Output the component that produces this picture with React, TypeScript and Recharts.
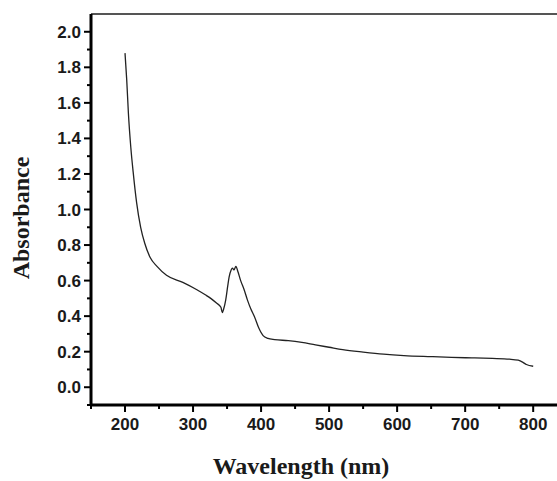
import { LineChart, Line, XAxis, YAxis, ReferenceLine } from "recharts";

const wavelength = [
  200, 202.5, 205, 208.5, 212, 217, 223, 229, 237, 247, 261, 285, 305, 318,
  326, 334, 341, 343, 345, 348, 351, 353, 356, 358, 360, 363, 366, 370, 375,
  380, 385, 390, 397, 403, 410, 420, 440, 460, 480, 500, 520, 550, 580, 610,
  650, 680, 710, 740, 765, 778, 785, 790, 800,
];
const absorbance = [
  1.88, 1.73, 1.54, 1.35, 1.21, 1.04, 0.9, 0.81, 0.73, 0.68, 0.63, 0.59, 0.55,
  0.52, 0.5, 0.475, 0.45, 0.42, 0.44, 0.49, 0.57, 0.62, 0.66, 0.67, 0.66,
  0.68, 0.65, 0.6, 0.55, 0.49, 0.44, 0.4, 0.33, 0.29, 0.275, 0.268, 0.262,
  0.252, 0.238, 0.225, 0.212, 0.198, 0.186, 0.178, 0.172, 0.168, 0.165, 0.162,
  0.158, 0.152, 0.14, 0.128, 0.118,
];

const xTicks = [
  150, 200, 250, 300, 350, 400, 450, 500, 550, 600, 650, 700, 750, 800,
];
const yTicks = [
  -0.1, 0, 0.1, 0.2, 0.3, 0.4, 0.5, 0.6, 0.7, 0.8, 0.9, 1.0, 1.1, 1.2, 1.3,
  1.4, 1.5, 1.6, 1.7, 1.8, 1.9, 2.0,
];

const data = wavelength.map((w, i) => ({ w, a: absorbance[i] }));

const tickFont = "'Liberation Sans', Arial, sans-serif";
const titleFont = "'Liberation Serif', 'Times New Roman', serif";

const XTick = (props: any) => {
  const { x, y, payload } = props;
  const v = payload.value as number;
  const major = v % 100 === 0;
  return (
    <g>
      <line x1={x} x2={x} y1={y} y2={y + (major ? 7 : 4)} stroke="#000" strokeWidth={2} />
      {major && (
        <text x={x} y={y + 25} textAnchor="middle" fontFamily={tickFont} fontWeight="bold" fontSize={17} fill="#1a1a1a">
          {v}
        </text>
      )}
    </g>
  );
};

const YTick = (props: any) => {
  const { x, y, payload } = props;
  const v = payload.value as number;
  const major = Math.round(v * 10) % 2 === 0 && v >= 0;
  return (
    <g>
      <line x1={x} x2={x - (major ? 7 : 4)} y1={y} y2={y} stroke="#000" strokeWidth={2} />
      {major && (
        <text x={x - 10} y={y + 6} textAnchor="end" fontFamily={tickFont} fontWeight="bold" fontSize={17} fill="#1a1a1a">
          {v.toFixed(1)}
        </text>
      )}
    </g>
  );
};

export default function App() {
  return (
    <div style={{ position: "absolute", left: 0, top: 0, background: "#fff" }}>
      <LineChart
        width={557}
        height={481}
        data={data}
        margin={{ top: 14, right: 0, bottom: 0, left: 0 }}
      >
        <XAxis
          dataKey="w"
          type="number"
          domain={[150, 835]}
          ticks={xTicks}
          interval={0}
          allowDataOverflow
          height={76}
          tickSize={0}
          tickMargin={0}
          tickLine={false}
          tick={<XTick />}
          axisLine={{ stroke: "#000", strokeWidth: 3 }}
          label={{
            content: () => (
              <text x={301} y={474} textAnchor="middle" fontFamily={titleFont} fontWeight="bold" fontSize={24} fill="#1a1a1a">
                Wavelength (nm)
              </text>
            ),
          }}
        />
        <YAxis
          type="number"
          domain={[-0.1, 2.1]}
          ticks={yTicks}
          interval={0}
          allowDataOverflow
          width={91}
          tickSize={0}
          tickMargin={0}
          tickLine={false}
          tick={<YTick />}
          axisLine={{ stroke: "#000", strokeWidth: 3 }}
          label={{
            content: () => (
              <text
                x={29}
                y={218}
                transform="rotate(-90 29 218)"
                textAnchor="middle"
                fontFamily={titleFont}
                fontWeight="bold"
                fontSize={24}
                fill="#1a1a1a"
              >
                Absorbance
              </text>
            ),
          }}
        />
        <ReferenceLine y={2.1} stroke="#555" strokeWidth={2} />
        <Line
          dataKey="a"
          type="monotone"
          stroke="#222"
          strokeWidth={1.3}
          dot={false}
          isAnimationActive={false}
        />
      </LineChart>
    </div>
  );
}
